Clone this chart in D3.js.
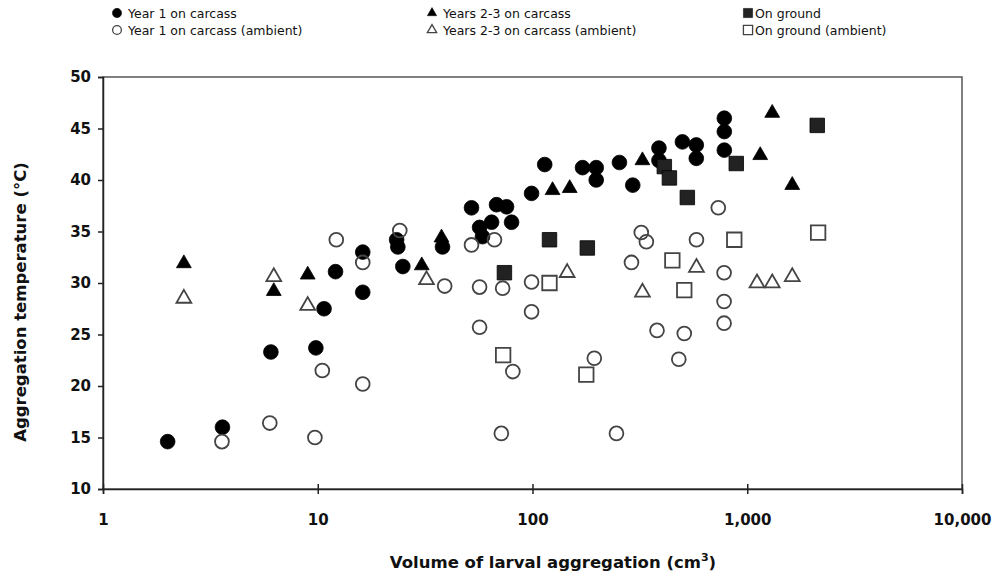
<!DOCTYPE html>
<html><head><meta charset="utf-8">
<script src="https://cdn.jsdelivr.net/npm/d3@7"></script>
<style>body{margin:0;background:#fff}svg{display:block}text{font-family:"DejaVu Sans","Liberation Sans",Arial,sans-serif;font-weight:bold;fill:#111}</style>
</head><body><svg id="c" width="999" height="578"></svg>
<script>
// Year 1 on carcass (filled circles)
const year1 = [[2.0,14.6],[3.6,16.0],[6.05,23.3],[9.8,23.7],[10.7,27.5],[12.1,31.1],[16.2,29.1],[16.2,33.0],[23.3,34.2],[23.6,33.5],[24.9,31.6],[38.1,33.5],[52,37.3],[56.7,35.4],[58.5,34.5],[64.5,35.9],[68,37.6],[75.7,37.4],[79.9,35.9],[99,38.7],[114,41.5],[171,41.2],[198,41.2],[198,40.0],[254,41.7],[293,39.5],[388,43.1],[388,41.9],[499,43.7],[579,43.4],[579,42.1],[782,46.0],[782,44.7],[782,42.9]];
// Years 2-3 on carcass (filled triangles)
const years23 = [[2.38,31.9],[6.24,29.2],[8.98,30.8],[30.5,31.7],[37.7,34.4],[124,39.0],[149,39.2],[325,41.9],[1149,42.4],[1307,46.5],[1620,39.5]];
// On ground (filled squares)
const ground = [[74,31.0],[120,34.2],[180,33.4],[411,41.3],[434,40.2],[526,38.3],[889,41.6],[2118,45.3]];
// Year 1 on carcass (ambient) (open circles)
const year1Amb = [[3.58,14.6],[5.98,16.4],[9.7,15.0],[10.5,21.5],[16.2,20.2],[12.2,34.2],[16.2,32.0],[24.1,35.1],[39,29.7],[52,33.7],[66.5,34.2],[56.7,29.6],[72.6,29.5],[99,30.1],[99,27.2],[56.7,25.7],[81,21.4],[71.6,15.4],[246,15.4],[194,22.7],[321,34.9],[339,34.0],[289,32.0],[380,25.4],[509,25.1],[480,22.6],[580,34.2],[733,37.3],[780,31.0],[780,28.2],[780,26.1]];
// Years 2-3 on carcass (ambient) (open triangles)
const years23Amb = [[2.38,28.5],[6.24,30.6],[8.98,27.8],[32.1,30.3],[145,31.0],[325,29.1],[580,31.5],[1110,30.0],[1307,30.0],[1620,30.6]];
// On ground (ambient) (open squares)
const groundAmb = [[73,23.0],[120,30.0],[178,21.1],[448,32.2],[509,29.3],[870,34.2],[2138,34.9]];

const xTicks = [1,10,100,1000,10000];
const xTickLabels = ["1","10","100","1,000","10,000"];
const yTicks = [10,15,20,25,30,35,40,45,50];
const legendLabels = ["Year 1 on carcass","Years 2-3 on carcass","On ground","Year 1 on carcass (ambient)","Years 2-3 on carcass (ambient)","On ground (ambient)"];

const svg = d3.select("#c");
const L=103,R=962,T=77,B=489;
const x = d3.scaleLog().domain([1,10000]).range([L,R]);
const y = d3.scaleLinear().domain([10,50]).range([B,T]);

const series = [
  {data:year1, type:d3.symbolCircle, size:170, fill:"#000", stroke:"#000"},
  {data:years23, type:d3.symbolTriangle, size:95, fill:"#000", stroke:"#000"},
  {data:ground, type:d3.symbolSquare, size:210, fill:"#222", stroke:"#000"},
  {data:year1Amb, type:d3.symbolCircle, size:150, fill:"none", stroke:"#444"},
  {data:years23Amb, type:d3.symbolTriangle, size:95, fill:"none", stroke:"#444"},
  {data:groundAmb, type:d3.symbolSquare, size:210, fill:"none", stroke:"#444"}
];

// frame
svg.append("rect").attr("x",L).attr("y",T).attr("width",R-L).attr("height",B-T)
  .attr("fill","none").attr("stroke","#555").attr("stroke-width",1.5);

// y axis
const yAxis = d3.axisLeft(y).tickValues(yTicks).tickSize(5).tickPadding(7).tickFormat(d3.format("d"));
const yg = svg.append("g").attr("transform",`translate(${L},0)`).call(yAxis);
yg.select(".domain").attr("stroke","#222").attr("stroke-width",1.5);
yg.selectAll(".tick line").attr("stroke","#222").attr("stroke-width",1.5);
yg.selectAll(".tick text").style("font-size","15px").attr("fill","#111");

// x axis
const xAxis = d3.axisBottom(x).tickValues(xTicks).tickSize(5).tickPadding(20).tickFormat((d,i)=>xTickLabels[i]);
const xg = svg.append("g").attr("transform",`translate(0,${B})`).call(xAxis);
xg.select(".domain").attr("stroke","#222").attr("stroke-width",1.5);
xg.selectAll(".tick line").attr("y1",-5).attr("stroke","#222").attr("stroke-width",1.5);
xg.selectAll(".tick text").style("font-size","15px").attr("fill","#111");

// axis titles
const xt = svg.append("text").attr("x",553).attr("y",568).attr("text-anchor","middle").style("font-size","16.5px");
xt.append("tspan").text("Volume of larval aggregation (cm");
xt.append("tspan").attr("dy",-7).style("font-size","11px").text("3");
xt.append("tspan").attr("dy",7).text(")");
svg.append("text").attr("transform","translate(26,302) rotate(-90)").attr("text-anchor","middle")
  .style("font-size","16.5px").text("Aggregation temperature (\u00B0C)");

// points
series.forEach(s=>{
  svg.append("g").selectAll("path").data(s.data).join("path")
    .attr("transform",d=>`translate(${x(d[0])},${y(d[1])})`)
    .attr("d",d3.symbol().type(s.type).size(s.size))
    .attr("fill",s.fill).attr("stroke",s.stroke).attr("stroke-width",s.fill==="none"?1.8:0.8);
});

// legend
const lx=[117,432,748], ly=[13,30];
series.forEach((s,i)=>{
  const cx=lx[i%3], cy=ly[Math.floor(i/3)];
  svg.append("path").attr("transform",`translate(${cx},${cy})`)
    .attr("d",d3.symbol().type(s.type).size(s.size*0.4))
    .attr("fill",s.fill).attr("stroke",s.stroke).attr("stroke-width",s.fill==="none"?1.3:0.5);
  svg.append("text").attr("x",cx+(i%3===2?7:11)).attr("y",cy+5).style("font-size","12.5px").style("font-weight","normal").attr("fill","#333").text(legendLabels[i]);
});
</script></body></html>
